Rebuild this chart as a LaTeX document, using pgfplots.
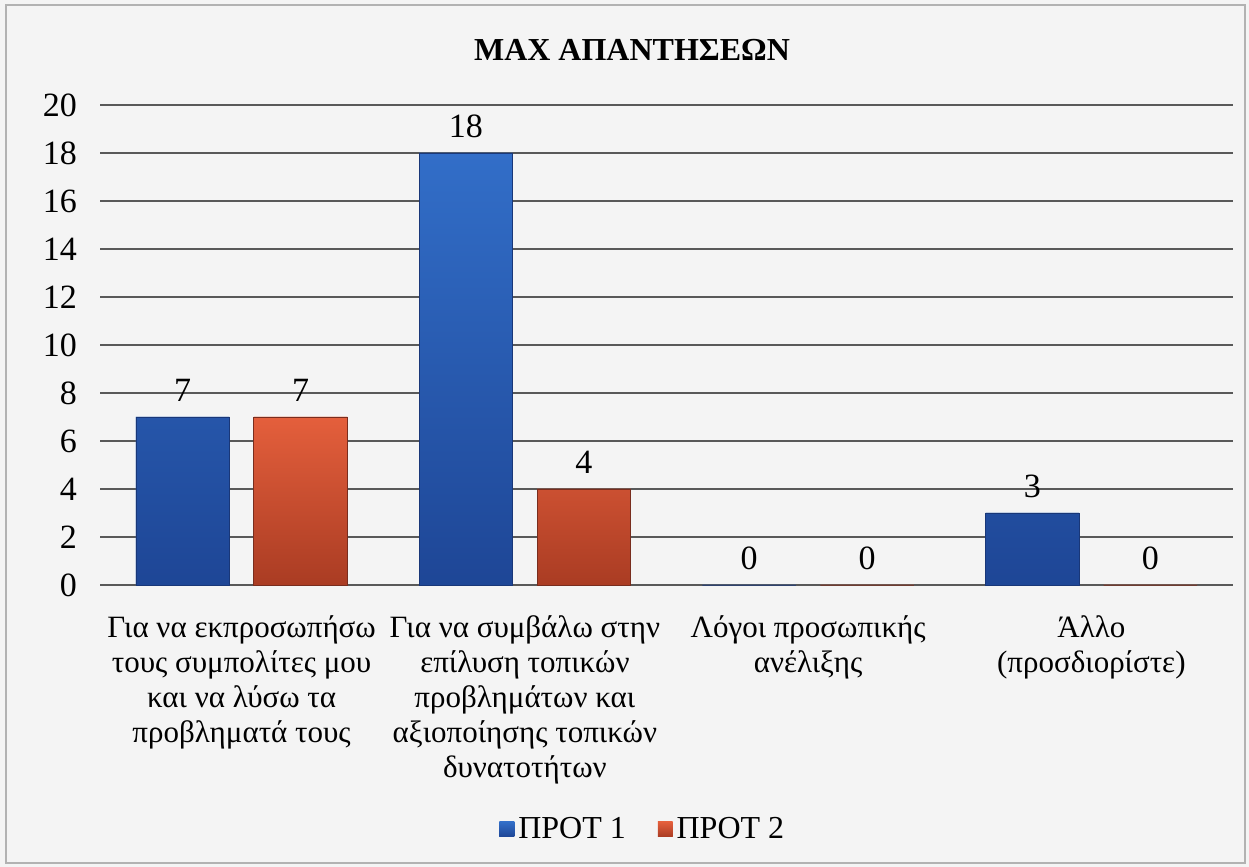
\documentclass[border=0pt]{standalone}
\usepackage{pgfplots}
\pgfplotsset{compat=1.18}
\usepackage{fontspec}
\setmainfont{Liberation Serif}
\definecolor{bluetop}{RGB}{50,110,200}
\definecolor{bluebot}{RGB}{30,70,150}
\definecolor{blueedge}{RGB}{25,55,120}
\definecolor{redtop}{RGB}{228,95,60}
\definecolor{redbot}{RGB}{170,60,35}
\definecolor{rededge}{RGB}{120,45,30}
\begin{document}
\begin{tikzpicture}
\path[use as bounding box] (0pt,0pt) rectangle (624.5pt,433.5pt);
\fill[gray!9] (0pt,0pt) rectangle (624.5pt,433.5pt);
\draw[gray!60,line width=1pt] (3pt,2pt) rectangle (622.5pt,431pt);
\node[font=\bfseries\fontsize{16}{19}\selectfont] at (316pt,408.5pt) {ΜΑΧ ΑΠΑΝΤΗΣΕΩΝ};
\begin{axis}[
  at={(50pt,141pt)}, anchor=south west,
  scale only axis,
  width=566.5pt, height=240pt,
  xmin=-0.5, xmax=3.5, ymin=0, ymax=20,
  ytick={0,2,...,20},
  xtick={0,1,2,3},
  xticklabels={{Για να εκπροσωπήσω\\τους συμπολίτες μου\\και να λύσω τα\\προβληματά τους},
               {Για να συμβάλω στην\\επίλυση τοπικών\\προβλημάτων και\\αξιοποίησης τοπικών\\δυνατοτήτων},
               {Λόγοι προσωπικής\\ανέλιξης},
               {Άλλο\\(προσδιορίστε)}},
  xticklabel style={align=center, font=\fontsize{15.5}{17.5}\selectfont, yshift=-12pt},
  yticklabel style={font=\fontsize{17}{20}\selectfont, xshift=-8pt},
  /pgf/number format/assume math mode=true,
  major tick length=0pt,
  axis line style={draw=none},
  ymajorgrids,
  grid style={black!65, line width=0.9pt},
  ybar, bar width=0.33,
  nodes near coords,
  nodes near coords style={font=\fontsize{17}{20}\selectfont, yshift=4pt},
  legend style={at={(0.48,-0.51)}, anchor=center, draw=none, fill=none,
    legend columns=2, font=\fontsize{16}{19}\selectfont,
    /tikz/every even column/.append style={column sep=14pt}},
  legend image code/.code={\draw[#1,draw=none] (0cm,-0.12cm) rectangle (0.26cm,0.14cm);},
  clip=false,
]
\addplot[bar shift=-0.208, draw=blueedge, top color=bluetop, bottom color=bluebot, fill=bluetop] coordinates {(0,7) (1,18) (2,0) (3,3)};
\addplot[bar shift=0.208, draw=rededge, top color=redtop, bottom color=redbot, fill=redtop] coordinates {(0,7) (1,4) (2,0) (3,0)};
\legend{ΠΡΟΤ 1, ΠΡΟΤ 2}
\end{axis}
\end{tikzpicture}
\end{document}
